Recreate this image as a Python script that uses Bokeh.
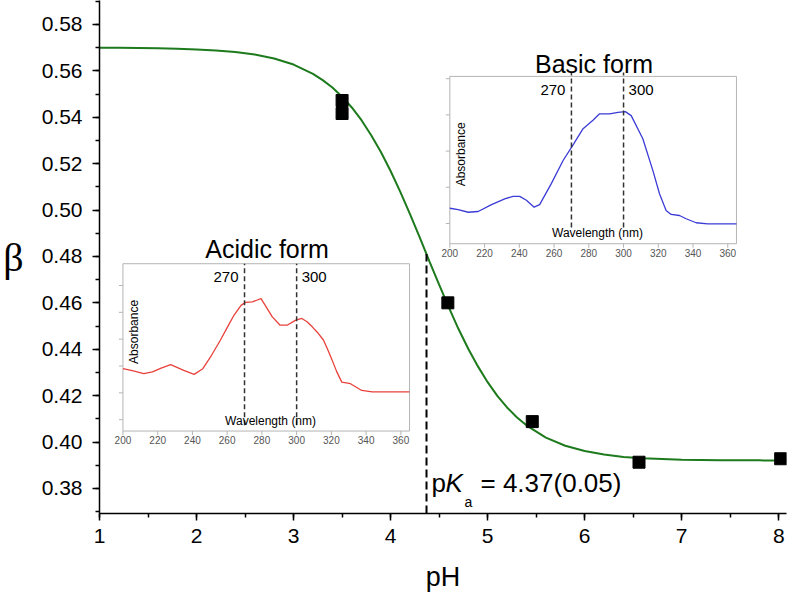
import math
from bokeh.plotting import figure
from bokeh.models import Range1d, SingleIntervalTicker, PrintfTickFormatter
from bokeh.core.properties import value
from bokeh.embed import file_html
from bokeh.resources import INLINE

# ---------------- data ----------------
ph_points = [3.50, 3.50, 4.59, 5.46, 6.56, 8.02]
beta_points = [0.5472, 0.5416, 0.4600, 0.4088, 0.3913, 0.3928]

# fitted curve
fit_ph = [1.0, 1.2, 1.4, 1.6, 1.8, 2.0, 2.2, 2.4, 2.6, 2.8, 3.0, 3.2, 3.3, 3.4, 3.5,
          3.6, 3.7, 3.8, 3.9, 4.0, 4.1, 4.2, 4.3, 4.4, 4.5, 4.6, 4.7, 4.8, 4.9, 5.0,
          5.1, 5.2, 5.3, 5.4, 5.6, 5.8, 6.0, 6.2, 6.4, 6.6, 6.8, 7.0, 7.2, 7.4, 7.6,
          7.8, 8.0, 8.08]
fit_beta = [0.5699, 0.5699, 0.5698, 0.5697, 0.5695, 0.5692, 0.5688, 0.5681, 0.5670,
            0.5653, 0.5627, 0.5587, 0.5560, 0.5528, 0.5488, 0.5442, 0.5387, 0.5322,
            0.5250, 0.5168, 0.5078, 0.4982, 0.4882, 0.4779, 0.4678, 0.4580, 0.4487,
            0.4402, 0.4326, 0.4258, 0.4199, 0.4149, 0.4107, 0.4072, 0.4019, 0.3984,
            0.3961, 0.3946, 0.3936, 0.3930, 0.3927, 0.3924, 0.3923, 0.3922, 0.3921,
            0.3921, 0.3920, 0.3920]

pka = 4.37
pka_beta = 0.481
pka_label = "= 4.37(0.05)"

# acidic-form spectrum
acid_wl = [200, 206, 212, 217, 222, 227.5, 235, 241, 246, 251, 256, 260, 264, 268,
           270.5, 274.5, 277, 279.5, 282, 286, 290.5, 294.5, 299.5, 303, 306, 309,
           312, 315.5, 318, 320.5, 323, 326, 331, 337.5, 343.5, 365]
acid_abs = [0.290, 0.282, 0.272, 0.278, 0.292, 0.305, 0.284, 0.269, 0.290, 0.340,
            0.395, 0.443, 0.490, 0.526, 0.537, 0.539, 0.545, 0.551, 0.525, 0.483,
            0.452, 0.452, 0.471, 0.477, 0.465, 0.446, 0.425, 0.396, 0.360, 0.321,
            0.280, 0.240, 0.234, 0.209, 0.204, 0.204]

# basic-form spectrum
base_wl = [200, 204.8, 210.6, 216.3, 224, 231.6, 236.4, 240.2, 244.1, 248.5, 251.7,
           258.4, 265.2, 271.3, 276.7, 282.4, 286.2, 292, 296.8, 301, 304.4, 311.1,
           316.9, 320.7, 324.5, 327.4, 332.2, 336, 341.8, 348.5, 365]
base_abs = [0.142, 0.138, 0.131, 0.133, 0.152, 0.168, 0.175, 0.175, 0.164, 0.145,
            0.152, 0.210, 0.274, 0.320, 0.362, 0.385, 0.403, 0.403, 0.407, 0.409,
            0.398, 0.334, 0.246, 0.182, 0.136, 0.125, 0.122, 0.113, 0.102, 0.099,
            0.099]

inset_xticks = [200, 220, 240, 260, 280, 300, 320, 340, 360]
inset_xlabels = [str(t) for t in inset_xticks]
acid_yticks = [0.1, 0.2, 0.3, 0.4, 0.5, 0.6]
base_yticks = [0.1, 0.2, 0.3, 0.4, 0.5]
marker_wl = [270, 300]
marker_labels = ["270", "300"]

FONT = "Liberation Sans"

# ---------------- main figure ----------------
p = figure(width=788, height=595, x_range=Range1d(1, 8.08), y_range=Range1d(0.3692, 0.5903),
           output_backend="svg", toolbar_location=None,
           min_border_left=97, min_border_right=2, min_border_top=0, min_border_bottom=82)
p.outline_line_color = None
p.grid.visible = False
p.background_fill_color = "white"

p.xaxis.ticker = SingleIntervalTicker(interval=1, num_minor_ticks=2)
p.yaxis.ticker = SingleIntervalTicker(interval=0.02, num_minor_ticks=2)
p.xaxis.formatter = PrintfTickFormatter(format="%d")
p.yaxis.formatter = PrintfTickFormatter(format="%.2f")
for ax in (p.xaxis[0], p.yaxis[0]):
    ax.axis_line_width = 1.5
    ax.axis_line_color = "black"
    ax.major_tick_line_width = 1.5
    ax.minor_tick_line_width = 1.5
    ax.major_tick_line_color = "black"
    ax.minor_tick_line_color = "black"
    ax.major_tick_out = 7
    ax.major_tick_in = 0
    ax.minor_tick_out = 4
    ax.minor_tick_in = 0
    ax.major_label_text_font = FONT
    ax.major_label_text_font_size = "21px"
    ax.major_label_text_color = "black"
p.xaxis.major_label_standoff = 8
p.yaxis.major_label_standoff = 10

p.xaxis.axis_label = "pH"
p.xaxis.axis_label_text_font = FONT
p.xaxis.axis_label_text_font_size = "27px"
p.xaxis.axis_label_text_font_style = "normal"
p.xaxis.axis_label_text_color = "black"
p.xaxis.axis_label_standoff = 16

p.yaxis.axis_label = "β"
p.yaxis.axis_label_orientation = "horizontal"
p.yaxis.axis_label_text_font = "Liberation Serif"
p.yaxis.axis_label_text_font_size = "40px"
p.yaxis.axis_label_text_font_style = "normal"
p.yaxis.axis_label_text_color = "black"
p.yaxis.axis_label_standoff = 15

# fitted curve + data
p.line(fit_ph, fit_beta, line_color="#1d7a1d", line_width=2)
p.scatter(ph_points, beta_points, marker="square", size=12, color="black")

# pKa marker
p.segment(x0=[pka], y0=[0.3692], x1=[pka], y1=[pka_beta], line_color="black",
          line_width=2, line_dash="8 4")
p.text(x=[pka], y=[0.3825], text=["p"], x_offset=5, text_font=value(FONT),
       text_font_size="26px", text_baseline="alphabetic", text_color="black")
p.text(x=[pka], y=[0.3825], text=["K"], x_offset=19, text_font=value(FONT),
       text_font_size="26px", text_font_style="italic", text_baseline="alphabetic",
       text_color="black")
p.text(x=[pka], y=[0.3740], text=["a"], x_offset=38, text_font=value(FONT),
       text_font_size="14px", text_baseline="alphabetic", text_color="black")
p.text(x=[pka], y=[0.3825], text=[pka_label], x_offset=54, text_font=value(FONT),
       text_font_size="26px", text_baseline="alphabetic", text_color="black")


def inset(src_y, tgt_x, tgt_y, wl, ab, color, yticks, title, title_y,
          mark_top, mark_bottom, mark_label_y, abs_y, wl_label_y):
    sub = p.subplot(x_source=Range1d(200, 365), y_source=Range1d(*src_y),
                    x_target=Range1d(*tgt_x), y_target=Range1d(*tgt_y))
    y0, y1 = src_y
    grey = "#b4b4b4"
    sub.quad(left=[200], right=[365], bottom=[y0], top=[y1], fill_color=None,
             line_color=grey, line_width=1)
    sub.ray(x=inset_xticks, y=[y0] * len(inset_xticks), length=4, angle=-math.pi / 2,
            length_units="screen", line_color=grey, line_width=1)
    sub.ray(x=[200] * len(yticks), y=yticks, length=4, angle=math.pi,
            length_units="screen", line_color=grey, line_width=1)
    sub.text(x=inset_xticks, y=[y0] * len(inset_xticks), text=inset_xlabels,
             y_offset=5, text_align="center", text_baseline="top",
             text_font=value(FONT), text_font_size="10px", text_color="#555555")
    sub.line(wl, ab, line_color=color, line_width=1.3)
    sub.segment(x0=marker_wl, y0=[mark_bottom] * 2, x1=marker_wl, y1=[mark_top] * 2,
                line_color="#333333", line_width=1.5, line_dash="5 3")
    sub.text(x=[marker_wl[0]], y=[mark_label_y], text=[marker_labels[0]], x_offset=-6,
             text_align="right", text_baseline="middle", text_font=value(FONT),
             text_font_size="15px", text_color="black")
    sub.text(x=[marker_wl[1]], y=[mark_label_y], text=[marker_labels[1]], x_offset=5,
             text_align="left", text_baseline="middle", text_font=value(FONT),
             text_font_size="15px", text_color="black")
    sub.text(x=[200], y=[abs_y], text=["Absorbance"], x_offset=11, angle=math.pi / 2,
             text_align="center", text_baseline="middle", text_font=value(FONT),
             text_font_size="12px", text_color="black")
    sub.text(x=[285], y=[wl_label_y], text=["Wavelength (nm)"], text_align="center",
             text_baseline="middle", text_font=value(FONT), text_font_size="12px",
             text_color="black")
    sub.text(x=[283], y=[title_y], text=[title], text_align="center",
             text_baseline="alphabetic", text_font=value(FONT), text_font_size="25px",
             text_color="black")


inset(src_y=(0.0578, 0.681), tgt_x=(1.2415, 4.1952), tgt_y=(0.40474, 0.47685),
      wl=acid_wl, ab=acid_abs, color="#e8413c", yticks=acid_yticks,
      title="Acidic form", title_y=0.734, mark_top=0.681, mark_bottom=0.079,
      mark_label_y=0.632, abs_y=0.427, wl_label_y=0.094)
inset(src_y=(0.044, 0.5064), tgt_x=(4.6105, 7.5643), tgt_y=(0.48547, 0.55759),
      wl=base_wl, ab=base_abs, color="#3b3bd6", yticks=base_yticks,
      title="Basic form", title_y=0.541, mark_top=0.517, mark_bottom=0.089,
      mark_label_y=0.469, abs_y=0.291, wl_label_y=0.0724)

open("out.html", "w").write(file_html(p, INLINE))
